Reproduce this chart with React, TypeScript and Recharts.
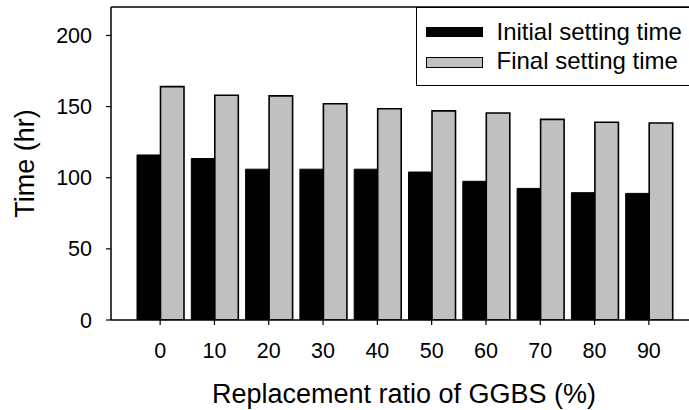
import React from 'react';
import { BarChart, Bar, XAxis, YAxis, Legend, ReferenceLine } from 'recharts';

const FONT = '"Liberation Sans", Arial, Helvetica, sans-serif';

const categories = ['0', '10', '20', '30', '40', '50', '60', '70', '80', '90'];
const initialSetting = [116, 113.5, 106, 106, 106, 104, 97.5, 92.5, 89.5, 89];
const finalSetting = [164, 158, 157.5, 152, 148.5, 147, 145.5, 141, 139, 138.5];
const yTicks = [0, 50, 100, 150, 200];
const seriesNames = ['Initial setting time', 'Final setting time'];
const seriesColors = ['#000000', '#c0c0c0'];

const data = categories.map((c, i) => ({
  ratio: c,
  initial: initialSetting[i],
  final: finalSetting[i],
}));

const LegendBox = (props: any) => {
  const payload = (props && props.payload) || [];
  const items = seriesNames.map((n, i) => {
    const p = payload.find((q: any) => q.value === n);
    return { name: n, color: (p && p.color) || seriesColors[i] };
  });
  return (
    <div
      style={{
        position: 'relative',
        width: 273,
        height: 79,
        borderTop: '1.5px solid #000',
        borderLeft: '1.5px solid #000',
        borderBottom: '1.5px solid #000',
        boxSizing: 'border-box',
        background: '#fff',
        fontFamily: FONT,
        overflow: 'hidden',
      }}
    >
      {items.map((it, i) => (
        <React.Fragment key={it.name}>
          <div
            style={{
              position: 'absolute',
              left: 8.5,
              top: i === 0 ? 19.5 : 49.5,
              width: 57,
              height: i === 0 ? 10 : 11,
              background: it.color,
              border: i === 0 ? 'none' : '1.5px solid #000',
              boxSizing: 'border-box',
            }}
          />
          <div
            style={{
              position: 'absolute',
              left: 79.5,
              top: i === 0 ? 11.5 : 40.5,
              height: 26,
              lineHeight: '26px',
              fontSize: 24,
              color: '#000',
              whiteSpace: 'nowrap',
            }}
          >
            {it.name}
          </div>
        </React.Fragment>
      ))}
    </div>
  );
};

export default function App() {
  return (
    <div
      style={{
        position: 'absolute',
        left: 0,
        top: 0,
        width: 689,
        height: 410,
        background: '#fff',
      }}
    >
      <BarChart
        width={689}
        height={410}
        data={data}
        margin={{ top: 7, right: 0, bottom: 0, left: 0 }}
        barGap={0}
      >
        <XAxis
          dataKey="ratio"
          height={90}
          padding={{ left: 22, right: 13 }}
          axisLine={{ stroke: '#000', strokeWidth: 1.5 }}
          tickLine={{ stroke: '#000', strokeWidth: 1.2 }}
          tickSize={5}
          tickMargin={18}
          interval={0}
          tick={{ fill: '#000', fontSize: 21.5, fontFamily: FONT }}
          label={{
            value: 'Replacement ratio of GGBS (%)',
            position: 'insideBottom',
            offset: 7,
            dx: 4,
            fill: '#000',
            fontSize: 27,
            fontFamily: FONT,
          }}
        />
        <YAxis
          width={111}
          domain={[0, 220]}
          ticks={yTicks}
          interval={0}
          allowDataOverflow
          axisLine={{ stroke: '#000', strokeWidth: 1.5 }}
          tickLine={{ stroke: '#000', strokeWidth: 1.2 }}
          tickSize={5}
          tickMargin={14}
          tick={{ fill: '#000', fontSize: 21.5, fontFamily: FONT }}
          label={{
            value: 'Time (hr)',
            angle: -90,
            position: 'insideLeft',
            offset: 24,
            fill: '#000',
            fontSize: 27,
            fontFamily: FONT,
            textAnchor: 'middle',
            style: { textAnchor: 'middle' },
          }}
        />
        <ReferenceLine y={220} stroke="#000" strokeWidth={1.5} ifOverflow="extendDomain" />
        <Legend
          layout="vertical"
          align="center"
          verticalAlign="middle"
          content={<LegendBox />}
          wrapperStyle={{ position: 'absolute', left: 416, top: 6.5, width: 273, height: 79 }}
        />
        <Bar
          dataKey="initial"
          name={seriesNames[0]}
          fill={seriesColors[0]}
          stroke="#000"
          strokeWidth={1}
          barSize={23.5}
          isAnimationActive={false}
        />
        <Bar
          dataKey="final"
          name={seriesNames[1]}
          fill={seriesColors[1]}
          stroke="#000"
          strokeWidth={1.6}
          barSize={23.5}
          isAnimationActive={false}
        />
      </BarChart>
    </div>
  );
}
